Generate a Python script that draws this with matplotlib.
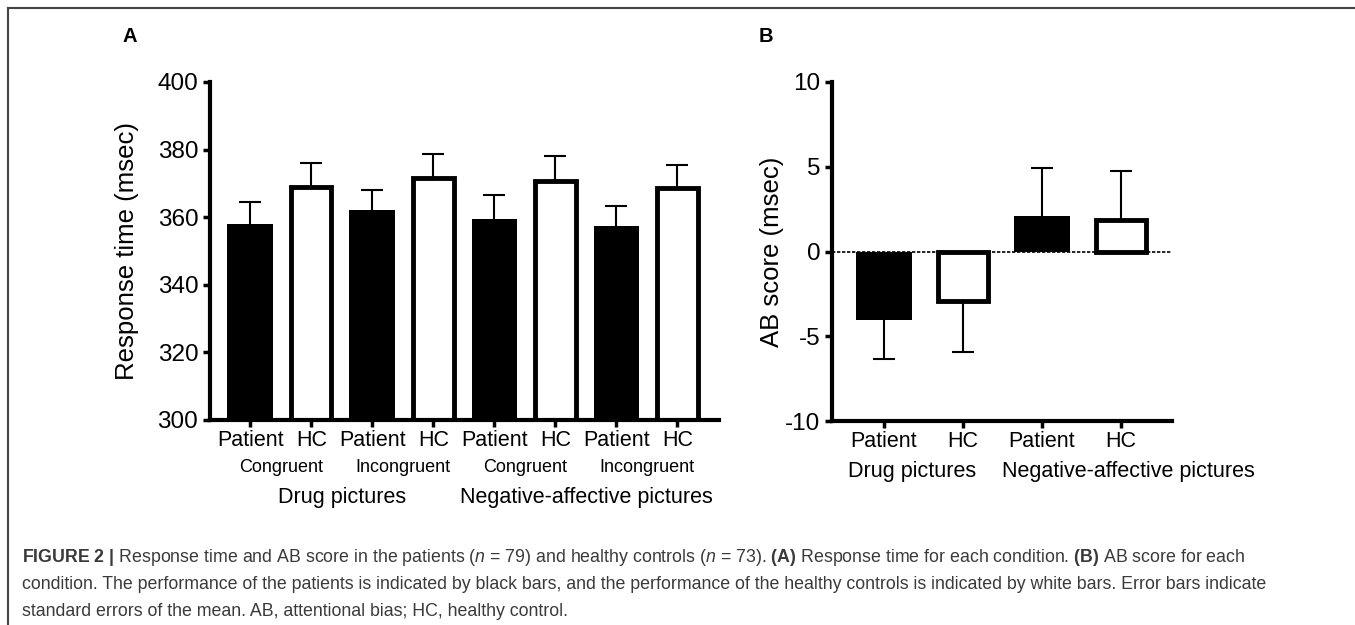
import matplotlib
matplotlib.use("Agg")
from matplotlib import pyplot as plt
from matplotlib.lines import Line2D
import matplotlib.transforms as mtransforms

plt.rcParams['font.family'] = ['Liberation Sans', 'DejaVu Sans']
plt.rcParams['mathtext.fontset'] = 'custom'
plt.rcParams['mathtext.rm'] = 'Liberation Sans'
plt.rcParams['mathtext.it'] = 'Liberation Sans:italic'
plt.rcParams['mathtext.bf'] = 'Liberation Sans:bold'
plt.rcParams['axes.unicode_minus'] = False

# panel A: response time per condition
rt_groups = ["Patient", "HC"]
rt_conditions = ["Congruent", "Incongruent", "Congruent", "Incongruent"]
rt_pictures = ["Drug pictures", "Negative-affective pictures"]
rt_patient = [358.1, 362.0, 359.5, 357.5]
rt_patient_se = [6.4, 6.0, 7.2, 5.7]
rt_hc = [368.8, 371.6, 370.6, 368.6]
rt_hc_se = [7.3, 7.2, 7.4, 6.8]

# panel B: AB score
ab_pictures = ["Drug pictures", "Negative-affective pictures"]
ab_patient = [-4.07, 2.12]
ab_patient_se = [2.3, 2.8]
ab_hc = [-2.9, 1.87]
ab_hc_se = [3.0, 2.9]

fig = plt.figure(figsize=(13.55, 6.25), dpi=100)

def style_axes(ax):
    for s in ["top", "right"]:
        ax.spines[s].set_visible(False)
    for s in ["left", "bottom"]:
        ax.spines[s].set_linewidth(3)
    ax.tick_params(axis="both", width=2.5, length=5, labelsize=17.5, colors="black")

def one_sided_err(ax, xs, vals, ses):
    # error bar only on the side away from zero (Prism style)
    for x, v, se in zip(xs, vals, ses):
        lo, hi = (se, 0) if v < 0 else (0, se)
        _, caps, _ = ax.errorbar([x], [v], yerr=[[lo], [hi]], fmt="none", ecolor="black",
                                 elinewidth=1.5, capsize=8, capthick=1.5, zorder=1)
        caps[1 if v < 0 else 0].set_visible(False)

# ---- A ----
axA = fig.add_axes([0.155, 0.328, 0.3756, 0.5408])
style_axes(axA)
xp = [2 * i for i in range(len(rt_patient))]
xh = [2 * i + 1 for i in range(len(rt_hc))]
one_sided_err(axA, xp, rt_patient, rt_patient_se)
one_sided_err(axA, xh, rt_hc, rt_hc_se)
axA.bar(xp, rt_patient, width=0.75, color="black", zorder=2)
axA.bar(xh, rt_hc, width=0.66, color="white", edgecolor="black", linewidth=3.5, zorder=2)
axA.set_ylim(300, 400)
axA.set_xlim(-0.66, 7.68)
axA.set_yticks([300, 320, 340, 360, 380, 400])
axA.set_xticks(xp + xh)
axA.set_xticklabels([rt_groups[0]] * 4 + [rt_groups[1]] * 4, fontsize=15.5)
axA.tick_params(axis="x", pad=2)
axA.set_ylabel("Response time (msec)", fontsize=18.5, labelpad=13)
trA = mtransforms.blended_transform_factory(axA.transData, fig.transFigure)
for i, c in enumerate(rt_conditions):
    axA.text(2 * i + 0.5, 1 - 468 / 625, c, transform=trA, ha="center", va="center", fontsize=13)
axA.text(1.5, 1 - 497 / 625, rt_pictures[0], transform=trA, ha="center", va="center", fontsize=15.5)
axA.text(5.5, 1 - 497 / 625, rt_pictures[1], transform=trA, ha="center", va="center", fontsize=15.5)

# ---- B ----
axB = fig.add_axes([0.614, 0.3264, 0.251, 0.5424])
style_axes(axB)
bp = [2 * i for i in range(len(ab_patient))]
bh = [2 * i + 1 for i in range(len(ab_hc))]
one_sided_err(axB, bp, ab_patient, ab_patient_se)
one_sided_err(axB, bh, ab_hc, ab_hc_se)
axB.bar(bp, ab_patient, width=0.71, color="black", zorder=2)
axB.bar(bh, ab_hc, width=0.64, color="white", edgecolor="black", linewidth=3.5, zorder=2)
axB.axhline(0, color="black", lw=1.2, ls=(0, (2, 1)), zorder=3)
axB.set_ylim(-10, 10)
axB.set_xlim(-0.66, 3.65)
axB.set_yticks([-10, -5, 0, 5, 10])
axB.set_xticks(bp + bh)
axB.set_xticklabels([rt_groups[0]] * 2 + [rt_groups[1]] * 2, fontsize=15.5)
axB.tick_params(axis="x", pad=2)
axB.set_ylabel("AB score (msec)", fontsize=18.5, labelpad=1)
trB = mtransforms.blended_transform_factory(axB.transData, fig.transFigure)
axB.text(0.36, 1 - 471 / 625, ab_pictures[0], transform=trB, ha="center", va="center", fontsize=15.5)
axB.text(3.09, 1 - 471 / 625, ab_pictures[1], transform=trB, ha="center", va="center", fontsize=15.5)

# panel letters
fig.text(130 / 1355, 1 - 36 / 625, "A", fontsize=14.5, fontweight="bold", ha="center", va="center")
fig.text(766 / 1355, 1 - 36 / 625, "B", fontsize=14.5, fontweight="bold", ha="center", va="center")

# frame
fig.add_artist(Line2D([8 / 1355, 1], [1 - 8 / 625, 1 - 8 / 625], transform=fig.transFigure,
                      color="#444444", lw=1.5))
fig.add_artist(Line2D([8 / 1355, 8 / 1355], [0, 1 - 8 / 625], transform=fig.transFigure,
                      color="#444444", lw=1.5))

# caption
cap = [
    r"$\mathbf{FIGURE\ 2\ |}$ Response time and AB score in the patients ($\mathit{n}$ = 79) and healthy controls ($\mathit{n}$ = 73). "
    r"$\mathbf{(A)}$ Response time for each condition. $\mathbf{(B)}$ AB score for each",
    "condition. The performance of the patients is indicated by black bars, and the performance of the healthy controls is indicated by white bars. Error bars indicate",
    "standard errors of the mean. AB, attentional bias; HC, healthy control.",
]
for i, line in enumerate(cap):
    fig.text(22 / 1355, 1 - (557 + 27.5 * i) / 625, line, fontsize=12.75, color="#3a3a3a",
             ha="left", va="center")

fig.savefig("out.png", dpi=100)
